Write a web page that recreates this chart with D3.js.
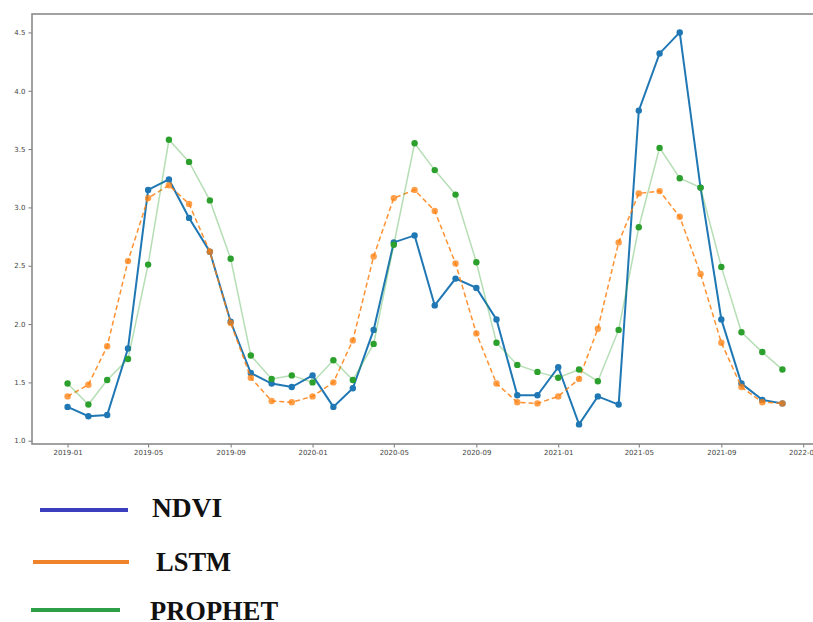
<!DOCTYPE html>
<html>
<head>
<meta charset="utf-8">
<script src="https://cdn.jsdelivr.net/npm/d3@7"></script>
<style>
  body { margin: 0; background: #fff; }
  svg { display: block; }
</style>
</head>
<body>
<svg id="chart" width="813" height="622"></svg>
<script>
// Monthly observations, Jan 2019 – Dec 2021
const months = [
  "2019-01","2019-02","2019-03","2019-04","2019-05","2019-06","2019-07","2019-08","2019-09","2019-10","2019-11","2019-12",
  "2020-01","2020-02","2020-03","2020-04","2020-05","2020-06","2020-07","2020-08","2020-09","2020-10","2020-11","2020-12",
  "2021-01","2021-02","2021-03","2021-04","2021-05","2021-06","2021-07","2021-08","2021-09","2021-10","2021-11","2021-12"
];
const ndvi = [
  1.29, 1.21, 1.22, 1.79, 3.15, 3.24, 2.91, 2.62, 2.02, 1.58, 1.49, 1.46,
  1.56, 1.29, 1.45, 1.95, 2.70, 2.76, 2.16, 2.39, 2.31, 2.04, 1.39, 1.39,
  1.63, 1.14, 1.38, 1.31, 3.83, 4.32, 4.50, 3.17, 2.04, 1.49, 1.35, 1.32
];
const lstm = [
  1.38, 1.48, 1.81, 2.54, 3.08, 3.19, 3.03, 2.62, 2.01, 1.54, 1.34, 1.33,
  1.38, 1.50, 1.86, 2.58, 3.08, 3.15, 2.97, 2.52, 1.92, 1.49, 1.33, 1.32,
  1.38, 1.53, 1.96, 2.70, 3.12, 3.14, 2.92, 2.43, 1.84, 1.46, 1.33, 1.32
];
const prophet = [
  1.49, 1.31, 1.52, 1.70, 2.51, 3.58, 3.39, 3.06, 2.56, 1.73, 1.53, 1.56,
  1.50, 1.69, 1.52, 1.83, 2.68, 3.55, 3.32, 3.11, 2.53, 1.84, 1.65, 1.59,
  1.54, 1.61, 1.51, 1.95, 2.83, 3.51, 3.25, 3.17, 2.49, 1.93, 1.76, 1.61
];
const xTickLabels = ["2019-01","2019-05","2019-09","2020-01","2020-05","2020-09","2021-01","2021-05","2021-09","2022-01"];
const yTickValues = [1.0, 1.5, 2.0, 2.5, 3.0, 3.5, 4.0, 4.5];
const legendNames = ["NDVI", "LSTM", "PROPHET"];

const parseMonth = d3.utcParse("%Y-%m");
const dates = months.map(parseMonth);

const svg = d3.select("#chart");
const plot = { left: 32, top: 14, right: 818, bottom: 444 };

// Date axis padded by ~5% of the data span on each side
const pad = 53 * 864e5;
const x = d3.scaleUtc()
  .domain([new Date(+dates[0] - pad), new Date(+dates[dates.length - 1] + pad)])
  .range([plot.left, plot.right]);
const y = d3.scaleLinear()
  .domain([0.972, 4.658])
  .range([plot.bottom, plot.top]);

svg.append("defs").append("clipPath").attr("id", "plotClip")
  .append("rect")
  .attr("x", plot.left).attr("y", plot.top)
  .attr("width", plot.right - plot.left).attr("height", plot.bottom - plot.top);

// Axes
const xAxis = d3.axisBottom(x)
  .tickValues(xTickLabels.map(parseMonth))
  .tickFormat(d3.utcFormat("%Y-%m"))
  .tickSize(3.5).tickPadding(3);
const yAxis = d3.axisLeft(y)
  .tickValues(yTickValues)
  .tickFormat(d3.format(".1f"))
  .tickSize(3.5).tickPadding(3);

const gx = svg.append("g").attr("transform", `translate(0,${plot.bottom})`).call(xAxis);
const gy = svg.append("g").attr("transform", `translate(${plot.left},0)`).call(yAxis);
[gx, gy].forEach(g => {
  g.select(".domain").remove();
  g.selectAll(".tick line").attr("stroke", "#666").attr("stroke-width", 0.9);
  g.selectAll(".tick text")
    .attr("fill", "#444")
    .style("font-family", "'DejaVu Sans', sans-serif")
    .style("font-size", "7px");
});

// Plot frame
svg.append("rect")
  .attr("x", plot.left).attr("y", plot.top)
  .attr("width", plot.right - plot.left).attr("height", plot.bottom - plot.top)
  .attr("fill", "none").attr("stroke", "#8a8a8a").attr("stroke-width", 1.6);

const series = [
  { values: ndvi, color: "#1f77b4", width: 2, dash: null, lineOpacity: 1, dotOpacity: 1 },
  { values: lstm, color: "#ff7f0e", width: 1.5, dash: "5,3", lineOpacity: 0.85, dotOpacity: 0.75 },
  { values: prophet, color: "#2ca02c", width: 1.5, dash: null, lineOpacity: 0.35, dotOpacity: 1 }
];

const layer = svg.append("g").attr("clip-path", "url(#plotClip)");
const line = d3.line().x((d, i) => x(dates[i])).y(d => y(d));

series.forEach(s => {
  layer.append("path")
    .datum(s.values)
    .attr("d", line)
    .attr("fill", "none")
    .attr("stroke", s.color)
    .attr("stroke-width", s.width)
    .attr("stroke-opacity", s.lineOpacity)
    .attr("stroke-dasharray", s.dash);
  layer.append("g").selectAll("circle")
    .data(s.values)
    .join("circle")
    .attr("cx", (d, i) => x(dates[i]))
    .attr("cy", d => y(d))
    .attr("r", 3.2)
    .attr("fill", s.color)
    .attr("fill-opacity", s.dotOpacity);
});

// Legend below the plot
const legendColors = ["#3b3fbf", "#f08229", "#2f9e48"];
const legendRows = [
  { x1: 40, x2: 128, ly: 510, tx: 152, ty: 517, size: 27.5 },
  { x1: 33, x2: 129, ly: 562, tx: 156, ty: 571, size: 26.5 },
  { x1: 31, x2: 120, ly: 610, tx: 150, ty: 620, size: 26.5 }
];
const legend = svg.append("g");
legendNames.forEach((name, i) => {
  const r = legendRows[i];
  legend.append("line")
    .attr("x1", r.x1).attr("x2", r.x2).attr("y1", r.ly).attr("y2", r.ly)
    .attr("stroke", legendColors[i]).attr("stroke-width", 4);
  legend.append("text")
    .attr("x", r.tx).attr("y", r.ty)
    .attr("fill", "#111")
    .style("font-family", "'Liberation Serif', 'Times New Roman', serif")
    .style("font-weight", "bold")
    .style("font-size", r.size + "px")
    .text(name);
});
</script>
</body>
</html>
